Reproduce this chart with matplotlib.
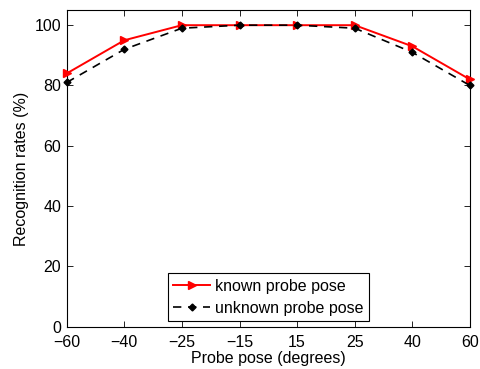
import matplotlib
matplotlib.use("Agg")
import matplotlib.pyplot as plt

# probe poses (categorical, evenly spaced on the axis)
poses = [-60, -40, -25, -15, 15, 25, 40, 60]
known = [84, 95, 100, 100, 100, 100, 93, 82]
unknown = [81, 92, 99, 100, 100, 99, 91, 80]

plt.rcParams['font.family'] = ['Liberation Sans', 'DejaVu Sans']
plt.rcParams['font.size'] = 11.5

fig = plt.figure(figsize=(4.8, 3.69), dpi=100)
ax = fig.add_axes([0.139, 0.1146, 0.840, 0.858])

x = list(range(len(poses)))
ax.plot(x, known, color='red', lw=1.4, marker='>', ms=6,
        label='known probe pose', clip_on=False, zorder=3)
ax.plot(x, unknown, color='black', lw=1.2, ls=(0, (5, 4)), marker='D',
        ms=3.5, mfc='black', label='unknown probe pose', clip_on=False,
        zorder=4)

ax.set_xlim(0, len(poses) - 1)
ax.set_ylim(0, 105)
ax.set_xticks(x)
ax.set_xticklabels([str(p).replace('-', '\u2212') for p in poses])
ax.set_yticks([0, 20, 40, 60, 80, 100])
ax.tick_params(direction='in', top=True, right=True, length=4, width=0.6)
ax.tick_params(axis='x', pad=6)
ax.tick_params(axis='y', pad=4)
for s in ax.spines.values():
    s.set_linewidth(0.8)

ax.set_xlabel('Probe pose (degrees)', labelpad=1)
ax.set_ylabel('Recognition rates (%)', labelpad=4)

leg = ax.legend(loc='lower center', bbox_to_anchor=(0.5, 0.0),
                borderaxespad=0.33, numpoints=1, handlelength=2.3,
                handletextpad=0.3, borderpad=0.35, labelspacing=0.45,
                fancybox=False, framealpha=1, edgecolor='black')
leg.get_frame().set_linewidth(0.8)

fig.savefig('out.png', dpi=100)
